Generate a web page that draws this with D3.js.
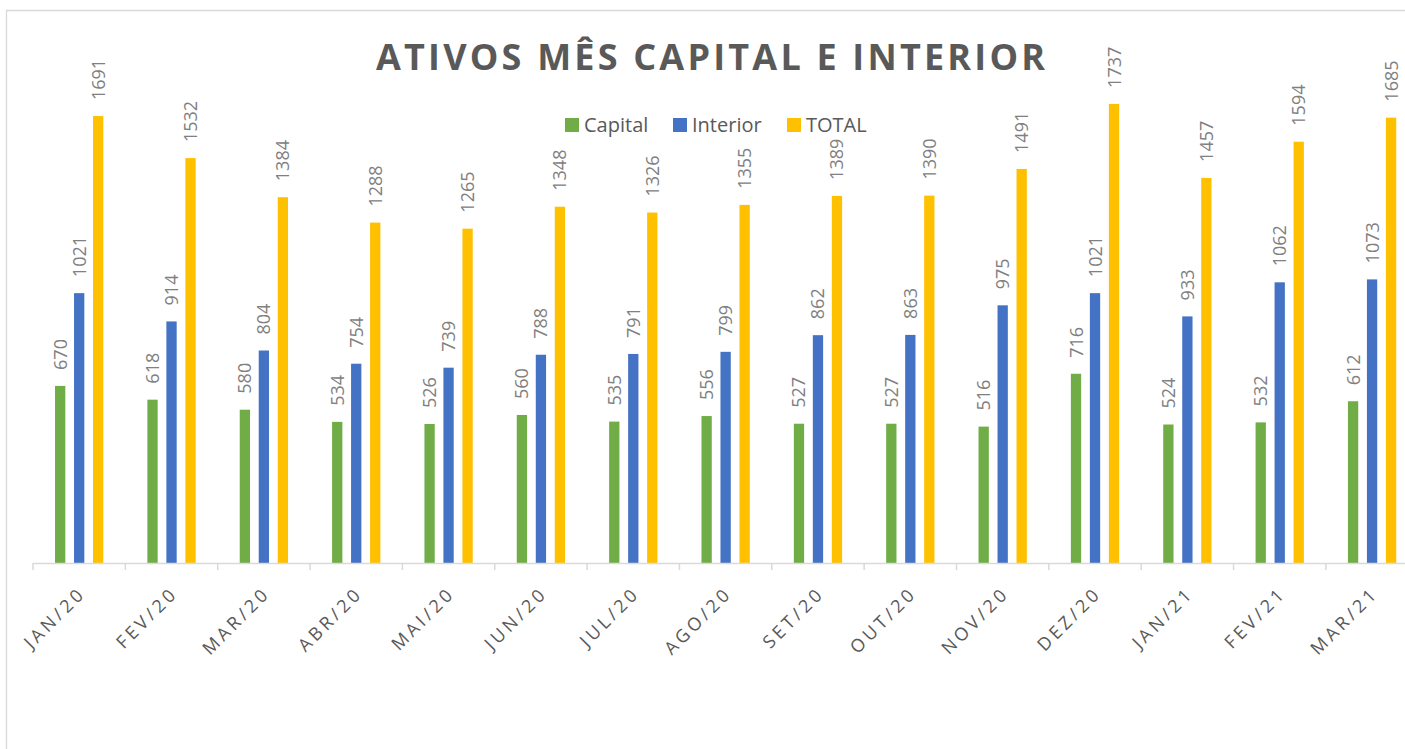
<!DOCTYPE html>
<html>
<head>
<meta charset="utf-8">
<script src="https://cdn.jsdelivr.net/npm/d3@7"></script>
<style>
  html, body { margin: 0; padding: 0; background: #fff; overflow: hidden; }
  svg { display: block; }
</style>
</head>
<body>
<svg id="chart" width="1405" height="749"></svg>
<script>
const categories = ["JAN/20","FEV/20","MAR/20","ABR/20","MAI/20","JUN/20","JUL/20","AGO/20","SET/20","OUT/20","NOV/20","DEZ/20","JAN/21","FEV/21","MAR/21"];
const seriesNames = ["Capital","Interior","TOTAL"];
const capital  = [670,618,580,534,526,560,535,556,527,527,516,716,524,532,612];
const interior = [1021,914,804,754,739,788,791,799,862,863,975,1021,933,1062,1073];
const total    = [1691,1532,1384,1288,1265,1348,1326,1355,1389,1390,1491,1737,1457,1594,1685];
const titleText = "ATIVOS MÊS CAPITAL E INTERIOR";

const colors = {"Capital": "#70ad47", "Interior": "#4472c4", "TOTAL": "#ffc000"};
const seriesData = {"Capital": capital, "Interior": interior, "TOTAL": total};

const svg = d3.select("#chart");
const W = 1405, H = 749;

// chart border
svg.append("path")
  .attr("d", `M6.5,${H+5} L6.5,10.5 L${W+5},10.5`)
  .attr("fill", "none").attr("stroke", "#d9d9d9").attr("stroke-width", 1.3);

const baseline = 563;
const x = d3.scaleBand().domain(categories).range([33, 33 + 15 * 92.35]).padding(0);
const xs = d3.scaleBand().domain(seriesNames).range([-24.15, 24.15]).paddingInner(0.458).paddingOuter(0);
const y = d3.scaleLinear().domain([0, 2000]).range([baseline, baseline - 2000 * 0.2643]);

// bars
const rows = categories.map((c, i) => ({c, i}));
seriesNames.forEach(s => {
  const g = svg.append("g");
  g.selectAll("rect").data(rows).join("rect")
    .attr("x", d => x(d.c) + x.bandwidth() / 2 + xs(s))
    .attr("y", d => y(seriesData[s][d.i]))
    .attr("width", xs.bandwidth())
    .attr("height", d => baseline - y(seriesData[s][d.i]))
    .attr("fill", colors[s]);
  g.selectAll("text").data(rows).join("text")
    .attr("transform", d => `translate(${x(d.c) + x.bandwidth() / 2 + xs(s) + xs.bandwidth() / 2},${y(seriesData[s][d.i]) - 16}) rotate(-90)`)
    .attr("dy", "0.36em")
    .attr("text-anchor", "start")
    .attr("font-family", "'Open Sans', sans-serif")
    .attr("font-size", 18)
    .attr("fill", "#808080")
    .text(d => seriesData[s][d.i]);
});

// x axis line and ticks
const axisG = svg.append("g");
axisG.append("line")
  .attr("x1", x.range()[0]).attr("x2", W + 5)
  .attr("y1", baseline + 0.5).attr("y2", baseline + 0.5)
  .attr("stroke", "#d9d9d9").attr("stroke-width", 1.5);
const tickPos = categories.map(c => x(c));
axisG.selectAll("line.tick").data(tickPos).join("line")
  .attr("class", "tick")
  .attr("x1", d => d).attr("x2", d => d)
  .attr("y1", baseline).attr("y2", baseline + 7)
  .attr("stroke", "#d9d9d9").attr("stroke-width", 1.5);
axisG.selectAll("text").data(categories).join("text")
  .attr("transform", d => `translate(${x(d) + x.bandwidth() / 2 + 3},${baseline + 27}) rotate(-45)`)
  .attr("text-anchor", "end")
  .attr("dy", "0.35em")
  .attr("font-family", "'Open Sans', sans-serif")
  .attr("font-size", 18)
  .attr("letter-spacing", "3.5px")
  .attr("fill", "#595959")
  .text(d => d);

// title
svg.append("text")
  .attr("x", 710.5).attr("y", 70)
  .attr("text-anchor", "middle")
  .attr("font-family", "'Open Sans', sans-serif")
  .attr("font-weight", "bold")
  .attr("font-size", 36)
  .attr("fill", "#595959")
  .attr("textLength", 669)
  .attr("lengthAdjust", "spacing")
  .text(titleText);

// legend
const legendX = [565, 673, 787];
const lg = svg.append("g");
seriesNames.forEach((s, i) => {
  lg.append("rect").attr("x", legendX[i]).attr("y", 118).attr("width", 14).attr("height", 14).attr("fill", colors[s]);
  lg.append("text").attr("x", legendX[i] + 19).attr("y", 132)
    .attr("font-family", "'Open Sans', sans-serif").attr("font-size", 20)
    .attr("fill", "#595959").text(s);
});
</script>
</body>
</html>
